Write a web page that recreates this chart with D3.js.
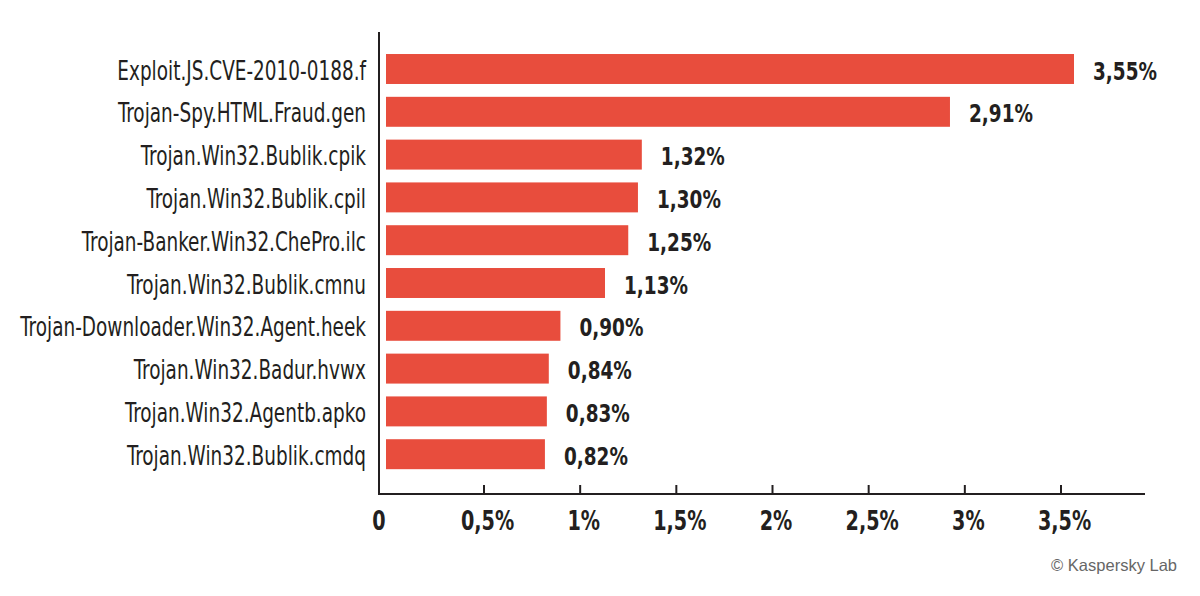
<!DOCTYPE html>
<html>
<head>
<meta charset="utf-8">
<script src="https://cdn.jsdelivr.net/npm/d3@7"></script>
<style>
  html, body { margin: 0; padding: 0; background: #ffffff; }
  svg { display: block; }
</style>
</head>
<body>
<svg id="chart" width="1200" height="596"></svg>
<script>
const categories = [
  "Exploit.JS.CVE-2010-0188.f",
  "Trojan-Spy.HTML.Fraud.gen",
  "Trojan.Win32.Bublik.cpik",
  "Trojan.Win32.Bublik.cpil",
  "Trojan-Banker.Win32.ChePro.ilc",
  "Trojan.Win32.Bublik.cmnu",
  "Trojan-Downloader.Win32.Agent.heek",
  "Trojan.Win32.Badur.hvwx",
  "Trojan.Win32.Agentb.apko",
  "Trojan.Win32.Bublik.cmdq"
];
const values = [3.55, 2.91, 1.32, 1.30, 1.25, 1.13, 0.90, 0.84, 0.83, 0.82];
const valueLabels = ["3,55%", "2,91%", "1,32%", "1,30%", "1,25%", "1,13%", "0,90%", "0,84%", "0,83%", "0,82%"];
const tickValues = [0, 0.5, 1, 1.5, 2, 2.5, 3, 3.5];
const tickLabels = ["0", "0,5%", "1%", "1,5%", "2%", "2,5%", "3%", "3,5%"];
const credit = "© Kaspersky Lab";

const svg = d3.select("#chart");
const ink = "#231f20";
const barColor = "#e84d3d";
const condensed = "'DejaVu Sans Condensed', 'Liberation Sans Narrow', sans-serif";

const x = d3.scaleLinear().domain([0, 3.55]).range([386, 1074]);
const xAxisScale = d3.scaleLinear().domain([0.5, 3.5]).range([484, 1061]);
const y = d3.scaleBand().domain(categories).range([47.6, 475.6]).paddingInner(0.3).paddingOuter(0.15);

const axisX = 379, axisY = 494;
const catSX = 0.76, valSX = 0.82, tickSX = 0.79;

// bars
svg.append("g").selectAll("rect").data(values).join("rect")
  .attr("x", x(0))
  .attr("y", (d, i) => y(categories[i]))
  .attr("width", d => x(d) - x(0))
  .attr("height", y.bandwidth())
  .attr("fill", barColor);

// category labels
svg.append("g").selectAll("text").data(categories).join("text")
  .attr("transform", d => `translate(366,${y(d) + y.bandwidth() / 2 + 10.5}) scale(${catSX},1)`)
  .attr("text-anchor", "end")
  .attr("font-family", condensed)
  .attr("font-size", 27)
  .attr("fill", ink)
  .text(d => d);

// value labels
svg.append("g").selectAll("text").data(values).join("text")
  .attr("transform", (d, i) => `translate(${x(d) + 19},${y(categories[i]) + y.bandwidth() / 2 + 10.5}) scale(${valSX},1)`)
  .attr("font-family", condensed)
  .attr("font-weight", "bold")
  .attr("font-size", 25)
  .attr("fill", ink)
  .text((d, i) => valueLabels[i]);

// y axis line
svg.append("line")
  .attr("x1", axisX).attr("x2", axisX)
  .attr("y1", 32).attr("y2", axisY + 1)
  .attr("stroke", ink).attr("stroke-width", 2);

// x axis
const xAxis = d3.axisBottom(xAxisScale)
  .tickValues(tickValues)
  .tickSize(0)
  .tickPadding(0)
  .tickFormat((d, i) => tickLabels[i]);

const gx = svg.append("g").attr("transform", `translate(0,${axisY})`).call(xAxis);
gx.select(".domain").remove();
gx.selectAll(".tick")
  .attr("transform", d => `translate(${d === 0 ? axisX : xAxisScale(d)},0)`);
gx.selectAll(".tick").filter(d => d !== 0).append("line")
  .attr("y1", 0).attr("y2", -9)
  .attr("stroke", ink).attr("stroke-width", 2);
gx.selectAll(".tick text")
  .attr("transform", d => `translate(${d === 0 ? 0 : 3.5},36) scale(${tickSX},1)`)
  .attr("x", 0)
  .attr("y", 0)
  .attr("dy", null)
  .attr("font-family", condensed)
  .attr("font-weight", "bold")
  .attr("font-size", 27)
  .attr("fill", ink);

svg.append("line")
  .attr("x1", axisX - 1).attr("x2", 1145)
  .attr("y1", axisY).attr("y2", axisY)
  .attr("stroke", ink).attr("stroke-width", 2);

// credit
svg.append("text")
  .attr("x", 1177).attr("y", 571)
  .attr("text-anchor", "end")
  .attr("font-family", "'Liberation Sans', Arial, sans-serif")
  .attr("font-size", 16.5)
  .attr("fill", "#666666")
  .text(credit);
</script>
</body>
</html>
